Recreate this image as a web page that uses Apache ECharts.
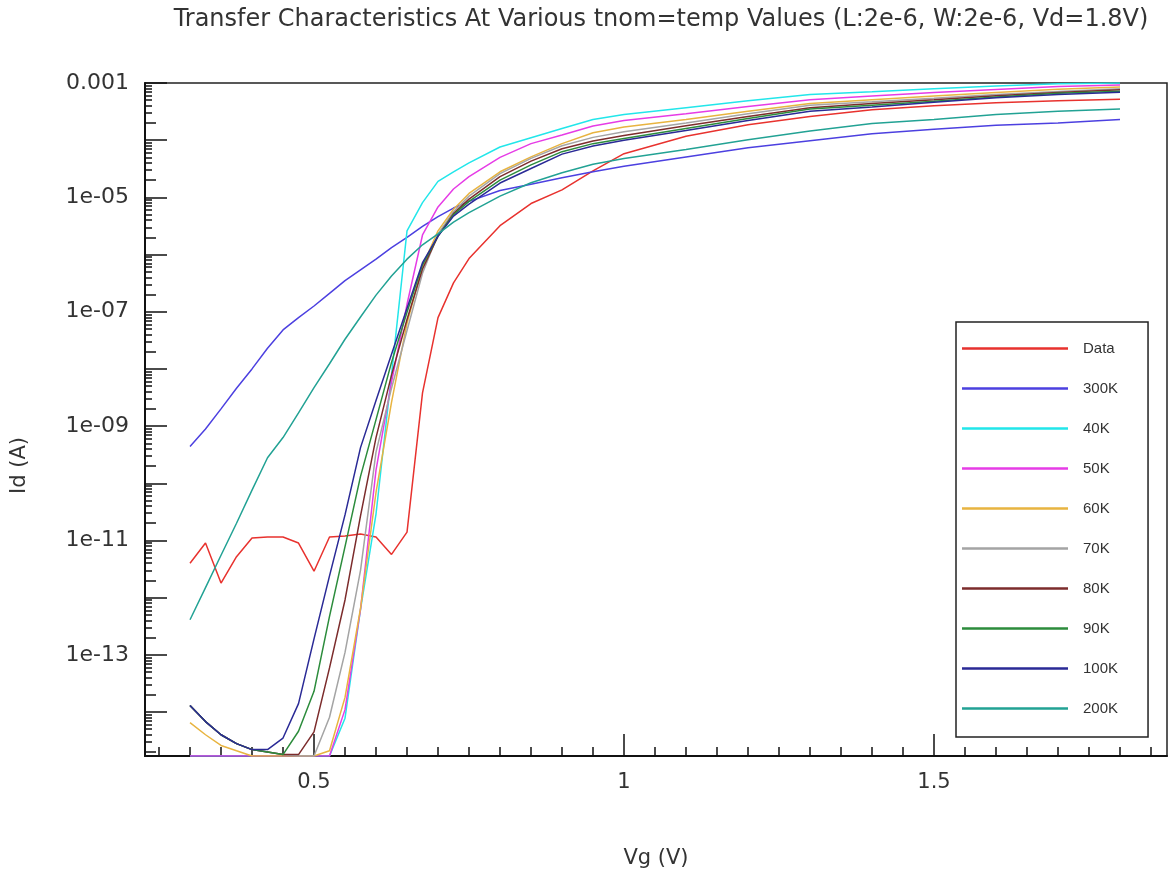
<!DOCTYPE html>
<html>
<head>
<meta charset="utf-8">
<script src="https://cdn.jsdelivr.net/npm/echarts@6/dist/echarts.min.js"></script>
<style>
html,body{margin:0;padding:0;background:#fff}
#chart{width:1168px;height:875px}
</style>
</head>
<body>
<div id="chart"></div>
<script>
// gate voltage grid (V)
const vg = [0.30, 0.325, 0.35, 0.375, 0.40, 0.425, 0.45, 0.475, 0.50, 0.525, 0.55, 0.575, 0.60, 0.625, 0.65, 0.675, 0.70, 0.725, 0.75,
  0.80, 0.85, 0.90, 0.95, 1.0, 1.1, 1.2, 1.3, 1.4, 1.5, 1.6, 1.7, 1.8]

// drain current (A)
const idData = [4.0e-12, 9.0e-12, 1.8e-12, 5.2e-12, 1.1e-11, 1.15e-11, 1.15e-11, 9.0e-12, 2.9e-12, 1.15e-11, 1.2e-11, 1.3e-11, 1.15e-11, 5.7e-12, 1.4e-11, 3.8e-9, 7.9e-8, 3.2e-7, 8.5e-7,
  3.2e-6, 7.8e-6, 1.35e-5, 2.9e-5, 5.8e-5, 1.17e-4, 1.86e-4, 2.6e-4, 3.4e-4, 4.0e-4, 4.5e-4, 4.9e-4, 5.2e-4]
const id300K = [4.4e-10, 8.9e-10, 2.0e-9, 4.6e-9, 1.0e-8, 2.3e-8, 4.8e-8, 7.9e-8, 1.26e-7, 2.1e-7, 3.5e-7, 5.4e-7, 8.3e-7, 1.32e-6, 2.0e-6, 3.1e-6, 4.6e-6, 6.5e-6, 8.5e-6,
  1.32e-5, 1.7e-5, 2.2e-5, 2.8e-5, 3.5e-5, 5.1e-5, 7.4e-5, 9.8e-5, 1.29e-4, 1.55e-4, 1.82e-4, 2.0e-4, 2.3e-4]
const id40K = [1.7e-15, 1.7e-15, 1.7e-15, 1.7e-15, 1.7e-15, 1.7e-15, 1.7e-15, 1.7e-15, 1.7e-15, 1.7e-15, 7.8e-15, 6.2e-13, 2.9e-11, 7.9e-9, 2.6e-6, 8.1e-6, 1.9e-5, 2.8e-5, 4.0e-5,
  7.6e-5, 1.1e-4, 1.6e-4, 2.3e-4, 2.8e-4, 3.7e-4, 4.9e-4, 6.3e-4, 7.0e-4, 7.9e-4, 8.9e-4, 9.7e-4, 1.0e-3]
const id50K = [1.7e-15, 1.7e-15, 1.7e-15, 1.7e-15, 1.7e-15, 1.7e-15, 1.7e-15, 1.7e-15, 1.7e-15, 1.7e-15, 1.1e-14, 6.2e-13, 1.7e-10, 5.9e-9, 1.35e-7, 2.2e-6, 6.8e-6, 1.4e-5, 2.3e-5,
  5.0e-5, 8.7e-5, 1.23e-4, 1.77e-4, 2.2e-4, 2.9e-4, 3.9e-4, 5.1e-4, 5.9e-4, 6.8e-4, 7.7e-4, 8.7e-4, 9.2e-4]
const id60K = [6.5e-15, 4.0e-15, 2.6e-15, 2.1e-15, 1.7e-15, 1.7e-15, 1.7e-15, 1.7e-15, 1.7e-15, 2.1e-15, 1.8e-14, 6.5e-13, 6.9e-11, 2.6e-9, 6.3e-8, 6.3e-7, 2.6e-6, 6.2e-6, 1.17e-5,
  2.8e-5, 5.1e-5, 8.7e-5, 1.35e-4, 1.7e-4, 2.3e-4, 3.2e-4, 4.4e-4, 5.1e-4, 5.9e-4, 6.8e-4, 7.8e-4, 8.5e-4]
const id70K = [1.3e-14, 6.8e-15, 4.0e-15, 2.8e-15, 2.2e-15, 2.0e-15, 1.8e-15, 1.7e-15, 1.7e-15, 8.1e-15, 1.1e-13, 3.0e-12, 3.5e-10, 4.6e-9, 4.7e-8, 4.7e-7, 2.3e-6, 5.6e-6, 1.05e-5,
  2.6e-5, 4.8e-5, 8.0e-5, 1.12e-4, 1.41e-4, 2.0e-4, 2.9e-4, 4.1e-4, 4.7e-4, 5.4e-4, 6.3e-4, 7.1e-4, 7.9e-4]
const id80K = [1.3e-14, 6.8e-15, 4.0e-15, 2.8e-15, 2.2e-15, 2.0e-15, 1.8e-15, 1.8e-15, 4.5e-15, 5.9e-14, 9.1e-13, 2.7e-11, 6.3e-10, 7.8e-9, 7.3e-8, 5.6e-7, 2.1e-6, 5.2e-6, 9.3e-6,
  2.3e-5, 4.3e-5, 7.1e-5, 9.7e-5, 1.21e-4, 1.78e-4, 2.6e-4, 3.7e-4, 4.4e-4, 5.1e-4, 6.0e-4, 6.8e-4, 7.6e-4]
const id90K = [1.3e-14, 6.8e-15, 4.0e-15, 2.8e-15, 2.2e-15, 2.0e-15, 1.8e-15, 4.6e-15, 2.3e-14, 4.7e-13, 7.8e-12, 1.32e-10, 1.3e-9, 1.3e-8, 9.8e-8, 6.6e-7, 2.1e-6, 5.0e-6, 8.5e-6,
  2.0e-5, 3.7e-5, 6.3e-5, 8.7e-5, 1.07e-4, 1.6e-4, 2.4e-4, 3.5e-4, 4.1e-4, 4.8e-4, 5.7e-4, 6.6e-4, 7.2e-4]
const id100K = [1.3e-14, 6.8e-15, 4.0e-15, 2.8e-15, 2.2e-15, 2.2e-15, 3.5e-15, 1.4e-14, 1.9e-13, 2.4e-12, 2.8e-11, 4.2e-10, 2.8e-9, 1.8e-8, 1.15e-7, 7.2e-7, 2.1e-6, 4.7e-6, 7.6e-6,
  1.78e-5, 3.2e-5, 5.7e-5, 7.9e-5, 1.0e-4, 1.48e-4, 2.2e-4, 3.2e-4, 3.8e-4, 4.6e-4, 5.5e-4, 6.3e-4, 6.9e-4]
const id200K = [4.1e-13, 1.5e-12, 5.5e-12, 2.0e-11, 7.6e-11, 2.8e-10, 6.3e-10, 1.7e-9, 4.7e-9, 1.23e-8, 3.3e-8, 8.1e-8, 1.95e-7, 4.2e-7, 8.3e-7, 1.48e-6, 2.3e-6, 3.7e-6, 5.4e-6,
  1.05e-5, 1.8e-5, 2.7e-5, 3.8e-5, 4.8e-5, 6.9e-5, 1.02e-4, 1.45e-4, 1.95e-4, 2.3e-4, 2.8e-4, 3.2e-4, 3.5e-4]

const names = ['Data', '300K', '40K', '50K', '60K', '70K', '80K', '90K', '100K', '200K']
const curves = [idData, id300K, id40K, id50K, id60K, id70K, id80K, id90K, id100K, id200K]
const colors = ['#e8322e', '#4c40e0', '#22e6ea', '#e63ce6', '#e8b440', '#a4a4a4', '#7c2c2c', '#2c8c3c', '#2a2a96', '#22a294']

// axis ticks (y in decades of log10(Id))
const xLabels = [0.5, 1, 1.5]
const yDecades = [-14, -13, -12, -11, -10, -9, -8, -7, -6, -5, -4, -3]
const yLabels = [-13, -11, -9, -7, -5, -3]

const yMin = Math.log10(1.7e-15), yMax = -3
const xMin = 0.2274, xMax = 1.8758

const xMinor = []
for (let i = 5; i <= 37; i++) {
  const v = i * 5 / 100
  if (xLabels.indexOf(v) < 0) xMinor.push(v)
}
const yMinor2 = [], yMinorRest = []
for (let n = -15; n <= -4; n++) {
  for (let k = 2; k <= 9; k++) {
    const v = n + Math.log10(k)
    if (v < yMin || v > yMax) continue
    if (k === 2) yMinor2.push(v)
    else yMinorRest.push(v)
  }
}

const font = 'DejaVu Sans'
const txt = '#333'

function fmtY(v) {
  const e = Math.round(v)
  if (e === -3) return '0.001'
  const a = String(-e)
  return '1e-' + (a.length < 2 ? '0' + a : a)
}

const mychart = echarts.init(document.getElementById('chart'))

const minorY = (vals, len) => ({
  type: 'value', min: yMin, max: yMax, position: 'left',
  axisLine: { show: false },
  axisLabel: { show: false },
  splitLine: { show: false },
  axisTick: { show: true, inside: true, length: len, customValues: vals, lineStyle: { color: '#111', width: 1.5 } }
})

const option = {
  animation: false,
  backgroundColor: '#fff',
  title: {
    text: 'Transfer Characteristics At Various tnom=temp Values (L:2e-6, W:2e-6, Vd=1.8V)',
    left: 656,
    top: 3,
    textAlign: 'center',
    textStyle: { fontFamily: font, fontSize: 24, fontWeight: 'normal', color: txt }
  },
  grid: {
    left: 145, right: 1, top: 83, bottom: 119,
    show: true, borderColor: '#222', borderWidth: 1.5,
    containLabel: false
  },
  legend: {
    data: names,
    orient: 'vertical',
    left: 956,
    top: 322,
    icon: 'path://M0,0h0.01v0.01h-0.01z M0,5.75h106v2.5h-106z M0,13.99h0.01v0.01h-0.01z',
    itemWidth: 106,
    itemHeight: 14,
    itemGap: 25,
    padding: [19, 30, 21, 6],
    borderColor: '#222',
    borderWidth: 1.5,
    backgroundColor: '#fff',
    textStyle: { fontFamily: 'Liberation Sans', fontSize: 15, color: txt, padding: [0, 0, 0, 10] }
  },
  xAxis: [{
    type: 'value', min: xMin, max: xMax,
    name: 'Vg (V)', nameLocation: 'middle', nameGap: 92,
    nameTextStyle: { fontFamily: font, fontSize: 21, color: txt },
    axisLine: { show: true, lineStyle: { color: '#111', width: 2 } },
    axisTick: { show: true, inside: true, length: 22, customValues: xLabels, lineStyle: { color: '#111', width: 1.5 } },
    axisLabel: { customValues: xLabels, margin: 16, fontFamily: font, fontSize: 21, color: txt, formatter: v => String(v) },
    splitLine: { show: false }
  }, {
    type: 'value', min: xMin, max: xMax, position: 'bottom',
    axisLine: { show: false },
    axisLabel: { show: false },
    splitLine: { show: false },
    axisTick: { show: true, inside: true, length: 9, customValues: xMinor, lineStyle: { color: '#111', width: 1.5 } }
  }],
  yAxis: [{
    type: 'value', min: yMin, max: yMax,
    name: 'Id (A)', nameLocation: 'middle', nameGap: 115, nameRotate: 90,
    nameTextStyle: { fontFamily: font, fontSize: 21, color: txt, padding: [0, 92, 0, 0] },
    axisLine: { show: true, lineStyle: { color: '#111', width: 2 } },
    axisTick: { show: true, inside: true, length: 22, customValues: yDecades, lineStyle: { color: '#111', width: 1.5 } },
    axisLabel: { customValues: yLabels, margin: 16, fontFamily: font, fontSize: 22, color: txt, formatter: fmtY },
    splitLine: { show: false }
  }, minorY(yMinorRest, 7), minorY(yMinor2, 11)],
  series: names.map((nm, j) => ({
    name: nm,
    type: 'line',
    xAxisIndex: 0,
    yAxisIndex: 0,
    symbol: 'none',
    showSymbol: false,
    clip: true,
    color: colors[j],
    lineStyle: { width: 1.5, color: colors[j] },
    data: vg.map((v, i) => [v, Math.log10(curves[j][i])])
  }))
}
mychart.setOption(option, true)
</script>
</body>
</html>
